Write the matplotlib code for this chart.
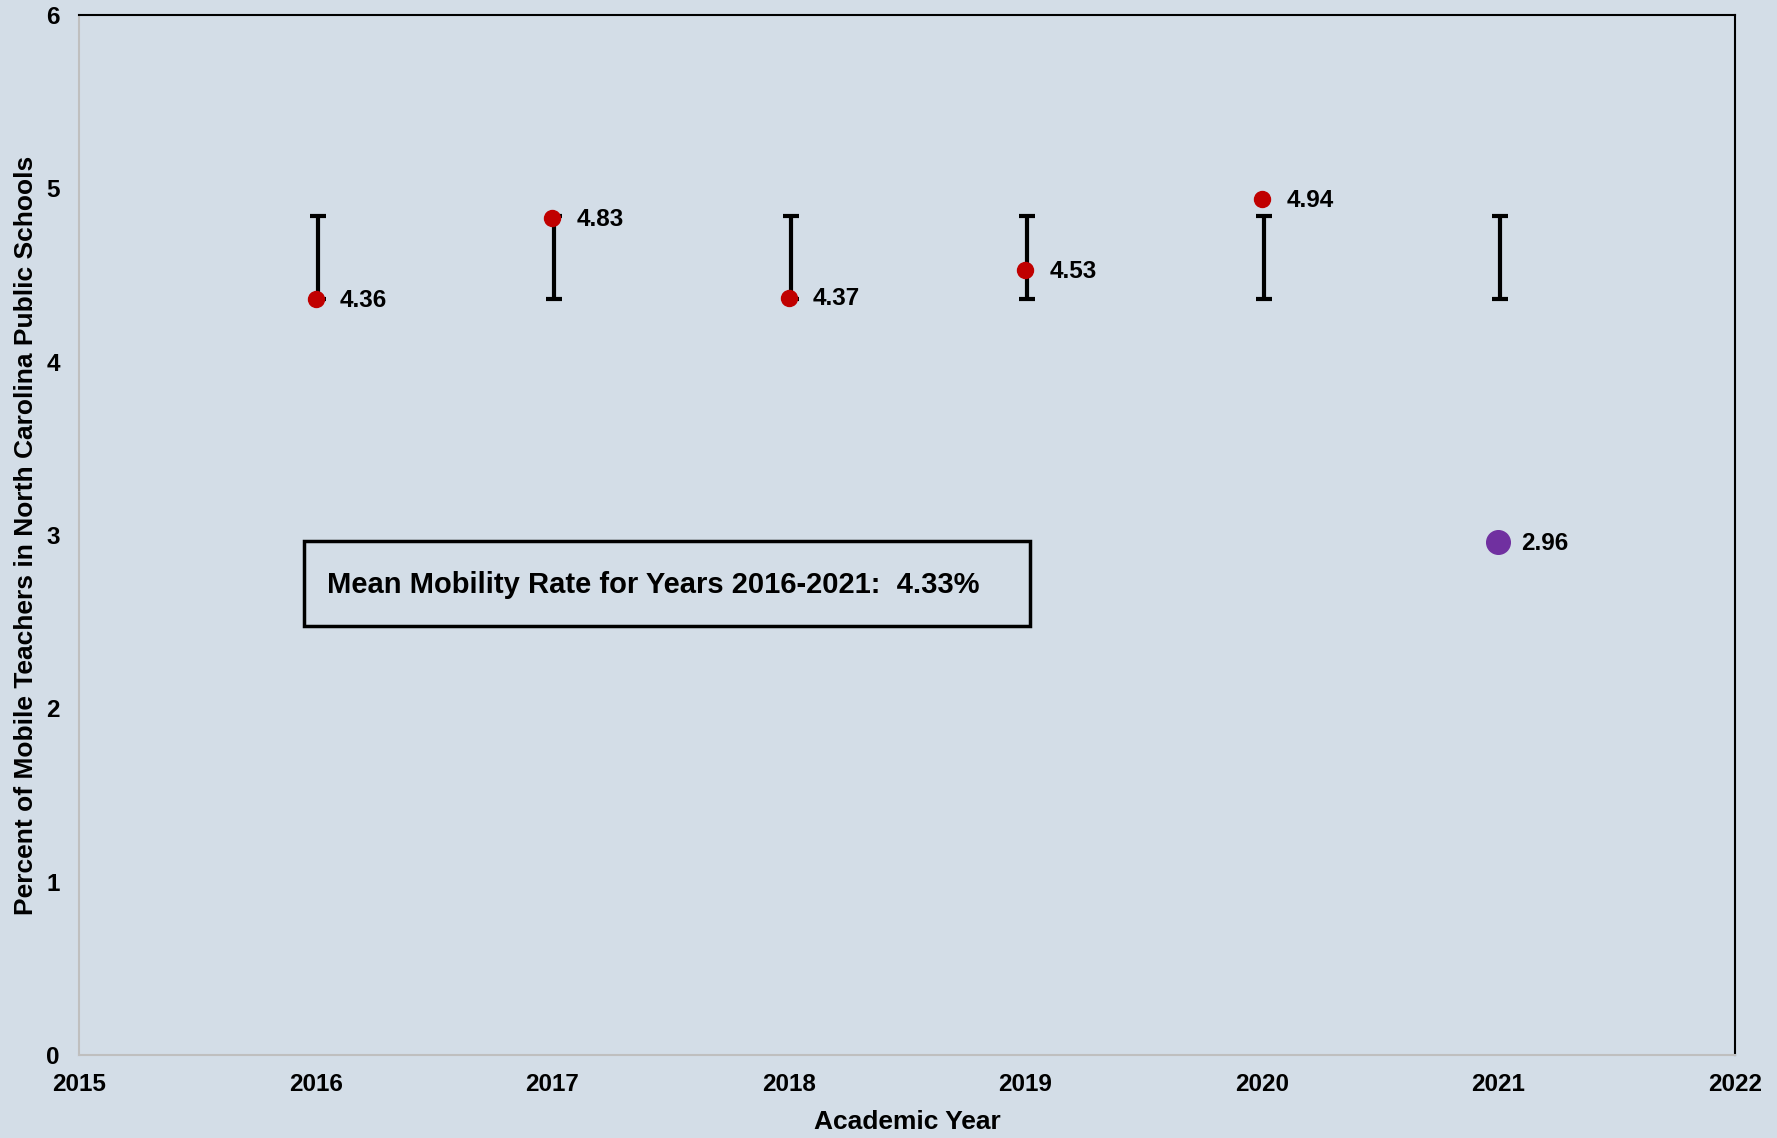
import matplotlib.pyplot as plt

years = [2016, 2017, 2018, 2019, 2020, 2021]
rates = [4.36, 4.83, 4.37, 4.53, 4.94, 2.96]
labels = ["4.36", "4.83", "4.37", "4.53", "4.94", "2.96"]
band_low = [4.36, 4.36, 4.36, 4.36, 4.36, 4.36]
band_high = [4.84, 4.84, 4.84, 4.84, 4.84, 4.84]
mean_rate = 4.33

BG = "#D3DDE7"
RED = "#C00000"
PURPLE = "#7030A0"

plt.rcParams["font.family"] = ["Liberation Sans", "DejaVu Sans"]
plt.rcParams["font.weight"] = "bold"

fig = plt.figure(figsize=(17.77, 11.38), dpi=100, facecolor=BG)
ax = fig.add_axes([0.0445, 0.0729, 0.9319, 0.9139], facecolor=BG)

# range bars
mid = [(lo + hi) / 2 for lo, hi in zip(band_low, band_high)]
err = [(hi - lo) / 2 for lo, hi in zip(band_low, band_high)]
ax.errorbar([y + 0.008 for y in years], mid, yerr=err, fmt="none",
            ecolor="black", elinewidth=3, capsize=5.5, capthick=3, zorder=2)

# points
colors = [RED] * 5 + [PURPLE]
sizes = [11.5] * 5 + [17]
for x, v, c, s, lab in zip(years, rates, colors, sizes, labels):
    ax.plot(x, v, "o", color=c, markersize=s, zorder=3)
    ax.annotate(lab, (x, v), xytext=(17.5 if s < 15 else 16, -1),
                textcoords="offset points", va="center", ha="left",
                fontsize=17.5, fontweight="bold")

# mean box
ax.text(2016.05, 2.71, f"Mean Mobility Rate for Years 2016-2021:  {mean_rate:.2f}%",
        fontsize=21, fontweight="bold", va="center", ha="left", zorder=4)
ax.add_patch(plt.Rectangle((2015.95, 2.477), 3.07, 0.49, fill=False,
                           edgecolor="black", linewidth=2.5, zorder=4))

ax.set_xlim(2015, 2022)
ax.set_ylim(0, 6)
ax.set_xticks(range(2015, 2023))
ax.set_yticks(range(0, 7))
ax.tick_params(length=0, labelsize=17.5)
ax.tick_params(axis="x", pad=13)
ax.tick_params(axis="y", pad=14)
for t in ax.get_xticklabels() + ax.get_yticklabels():
    t.set_fontweight("bold")

ax.spines["top"].set_color("black")
ax.spines["right"].set_color("black")
ax.spines["top"].set_linewidth(1.5)
ax.spines["right"].set_linewidth(1.5)
ax.spines["left"].set_color("#BFBFBF")
ax.spines["bottom"].set_color("#BFBFBF")
ax.spines["left"].set_linewidth(1.5)
ax.spines["bottom"].set_linewidth(1.5)

ax.set_xlabel("Academic Year", fontsize=19, fontweight="bold", labelpad=10)
ax.set_ylabel("Percent of Mobile Teachers in North Carolina Public Schools",
              fontsize=19, fontweight="bold", labelpad=6)

fig.savefig("out.png", dpi=100, facecolor=BG)
